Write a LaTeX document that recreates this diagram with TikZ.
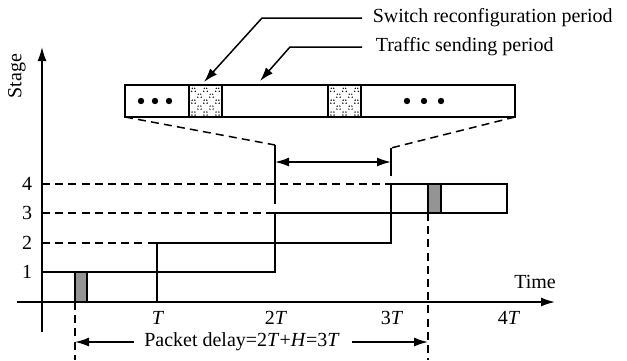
\documentclass[tikz,border=0pt]{standalone}
\usepackage{fontspec}
\setmainfont{Liberation Serif}
\usetikzlibrary{arrows.meta}

\begin{document}
\begin{tikzpicture}[x=0.5pt,y=-0.5pt,line width=0.75pt,
  tip/.style={-{Latex[length=7pt,width=4.5pt]}},
  twotip/.style={{Latex[length=7pt,width=4.5pt]}-{Latex[length=7pt,width=4.5pt]}},
  guide/.style={dash pattern=on 4pt off 2.6pt},
  lbl/.style={font=\fontsize{10}{12}\selectfont,inner sep=0pt},
  slot/.style={draw,fill=white},
  packet/.style={draw,fill=black!42},
  hatch/.style={line width=0.55pt,dash pattern=on 0.5pt off 1.6pt}]
\useasboundingbox (0,0) rectangle (627,360);

% axes
\coordinate (O) at (42,302);
\coordinate (ytop) at (42,47);
\coordinate (ybot) at (42,332);
\coordinate (xl) at (17,302);
\coordinate (xr) at (555,302);
\draw[tip] (ybot) -- (ytop);
\draw[tip] (xl) -- (xr);
\node[lbl,rotate=90] (stage) at (17,76) {Stage};
\node[lbl] (time) at (535,282) {Time};

% stage levels
\foreach \s/\y in {1/272,2/243,3/213,4/184}
  \node[lbl] (s\s) at (27,\y) {\s};
\node[lbl] (t1) at (158,318) {\textit{T}};
\node[lbl] (t2) at (276,318) {2\textit{T}};
\node[lbl] (t3) at (392,318) {3\textit{T}};
\node[lbl] (t4) at (509,318) {4\textit{T}};

% dashed level guides
\draw[guide] (42,243) -- (157,243);
\draw[guide] (42,213) -- (275,213);
\draw[guide] (42,184) -- (391,184);

% one time slot per stage
\draw[slot] (42,272) rectangle (157,302);
\draw[slot] (157,243) rectangle (275,272);
\draw[slot] (275,213) rectangle (391,243);
\draw[slot] (391,184) rectangle (507,213);

% packet position
\draw[packet] (75,272) rectangle (87,302);
\draw[packet] (428,184) rectangle (441,213);

% packet delay
\draw[guide] (75,302) -- (75,360);
\draw[guide] (428,213) -- (428,360);
\coordinate (pa) at (75,342);
\coordinate (pb) at (428,342);
\node[lbl] (pd) at (242,342) {Packet delay=2\textit{T}+\textit{H}=3\textit{T}};
\draw[tip] ([xshift=-5pt]pd.west) -- (pa);
\draw[tip] ([xshift=6pt]pd.east) -- (pb);

% magnified slot
\coordinate (bl) at (125,117);
\coordinate (br) at (515,117);
\draw (125,85) rectangle (515,117);
\foreach \xa in {189,328} {
  \begin{scope}
    \clip (\xa,85) rectangle ++(33,32);
    \foreach \k in {-36,-24,...,36} {
      \draw[hatch] (\xa+\k,85) -- ++(32,32);
      \draw[hatch] (\xa+33-\k,85) -- ++(-32,32);
    }
  \end{scope}
  \draw (\xa,85) rectangle ++(33,32);
}
\foreach \xd in {141,155,169,407,424,441}
  \fill (\xd,101) circle[radius=1.6pt];

% zoom guides from the slot to the time axis
\coordinate (zl) at (275,145);
\coordinate (zr) at (391,148);
\draw[guide] (bl) -- (zl);
\draw[guide] (br) -- (zr);
\draw (zl) -- (275,204);
\draw (zr) -- (391,176);
\draw[twotip] (275,162) -- (391,162);

% callouts
\node[lbl,anchor=west] (sw) at (372,18) {Switch reconfiguration period};
\node[lbl,anchor=west] (tr) at (375,47) {Traffic sending period};
\coordinate (swtip) at (204,82);
\coordinate (trtip) at (260,81);
\draw[tip] ([xshift=-5pt]sw.west) -- (262,18) -- (swtip);
\draw[tip] ([xshift=-6.5pt]tr.west) -- (290,47) -- (trtip);
\end{tikzpicture}
\end{document}
